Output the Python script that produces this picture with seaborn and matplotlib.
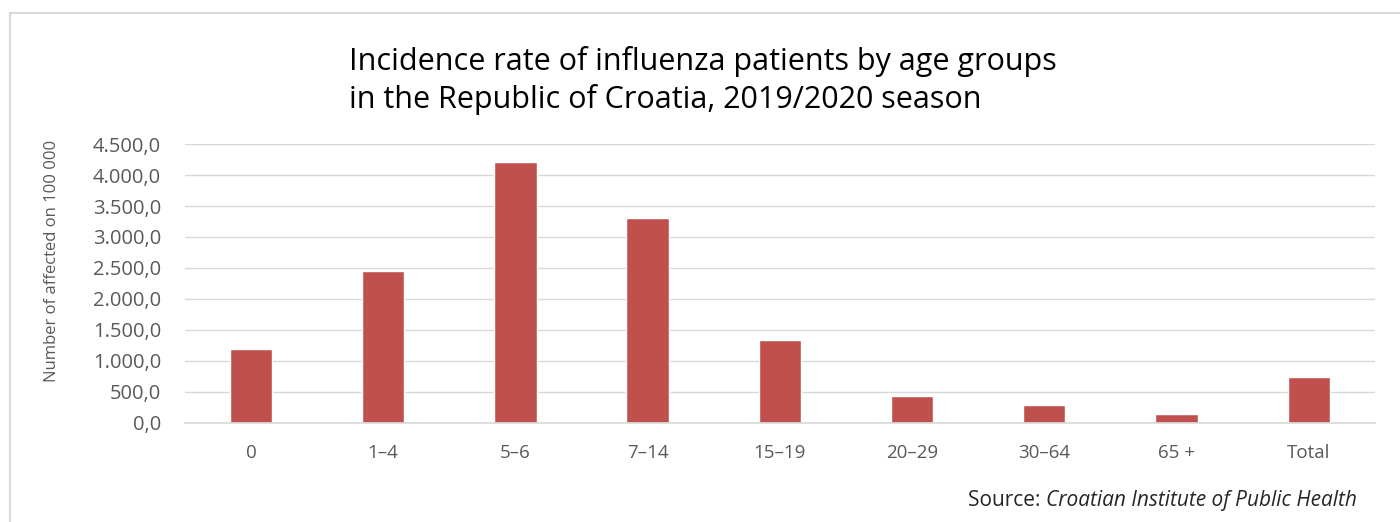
"""
Incidence rate of influenza patients by age groups, Croatia 2019/2020.
Bar chart redrawn with seaborn, Excel-like styling.
"""

import matplotlib
matplotlib.use("Agg")
import matplotlib.pyplot as plt
from matplotlib.ticker import FuncFormatter
from matplotlib.patches import Rectangle
import pandas as pd
import seaborn as sns

AGE_GROUPS = ["0", "1–4", "5–6", "7–14", "15–19", "20–29", "30–64", "65 +", "Total"]
INCIDENCE = [1185, 2455, 4210, 3305, 1345, 440, 295, 135, 745]
Y_TICKS = [0, 500, 1000, 1500, 2000, 2500, 3000, 3500, 4000, 4500]

TITLE = "Incidence rate of influenza patients by age groups\nin the Republic of Croatia, 2019/2020 season"
Y_LABEL = "Number of affected on 100 000"

BAR_COLOR = "#C0504D"
TEXT_GRAY = "#595959"


def fmt_hr(v, _pos=None):
    # 4500 -> "4.500,0"
    s = f"{v:,.1f}"
    return s.replace(",", "X").replace(".", ",").replace("X", ".")


def main() -> None:
    sns.set_theme(style="white")
    plt.rcParams["font.family"] = ["Open Sans", "DejaVu Sans"]

    df = pd.DataFrame({"group": AGE_GROUPS, "value": INCIDENCE})

    fig = plt.figure(figsize=(14, 5.22), dpi=100)
    ax = fig.add_axes([0.132, 0.19, 0.85, 0.534])

    sns.barplot(data=df, x="group", y="value", color=BAR_COLOR,
                width=0.32, saturation=1, ax=ax)

    ax.set_xlim(-0.5, 8.5)
    ax.set_ylim(0, 4500)
    ax.set_yticks(Y_TICKS)
    ax.yaxis.set_major_formatter(FuncFormatter(fmt_hr))
    ax.yaxis.grid(True, color="#d9d9d9", linewidth=1)
    ax.set_axisbelow(True)
    for side in ["top", "right", "left"]:
        ax.spines[side].set_visible(False)
    ax.spines["bottom"].set_color("#d9d9d9")

    ax.tick_params(axis="y", labelsize=14.5, labelcolor=TEXT_GRAY, length=0, pad=17)
    ax.tick_params(axis="x", labelsize=13.5, labelcolor=TEXT_GRAY, length=0, pad=15)
    ax.set_xlabel("")
    ax.set_ylabel(Y_LABEL, fontsize=12, color=TEXT_GRAY)
    ax.yaxis.set_label_coords(-0.105, 0.58)

    fig.text(0.249, 0.779, TITLE, fontsize=22, color="#000000",
             ha="left", va="bottom", linespacing=1.3)

    src = fig.text(0.969, 0.022, "Source: ", fontsize=15, color="#262626",
                   ha="right", va="bottom")
    fig.text(0.969, 0.022, "Croatian Institute of Public Health", fontsize=15,
             color="#262626", style="italic", ha="right", va="bottom")
    # shift "Source:" left of the italic part
    fig.canvas.draw()
    r = fig.canvas.get_renderer()
    ital = fig.texts[-1].get_window_extent(r)
    src.set_position((ital.x0 / fig.bbox.width, 0.022))

    fig.patches.append(Rectangle((0.007, -0.05), 1.1, 1.025,
                                 transform=fig.transFigure, fill=False,
                                 edgecolor="#d9d9d9", linewidth=1.5))

    fig.savefig("out.png", dpi=100)
    plt.close(fig)


if __name__ == "__main__":
    main()
